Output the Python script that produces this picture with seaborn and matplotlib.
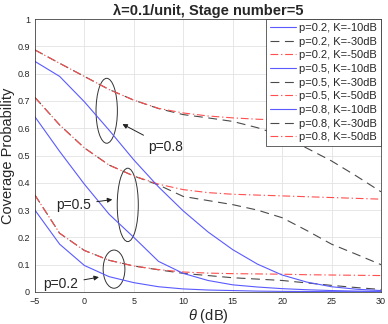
import matplotlib
matplotlib.use("Agg")
import matplotlib.pyplot as plt
from matplotlib.patches import Ellipse
import seaborn as sns
import pandas as pd

# SINR threshold (dB)
theta = [-5, -2.5, 0, 2.5, 5, 7.5, 10, 12.5, 15, 17.5, 20, 22.5, 25, 27.5, 30]

# coverage probability
p02_k10 = [0.300, 0.175, 0.097, 0.056, 0.034, 0.019, 0.011, 0.007, 0.005, 0.003, 0.002, 0.0015, 0.001, 0.0008, 0.0005]
p02_k30 = [0.355, 0.215, 0.152, 0.116, 0.095, 0.081, 0.068, 0.060, 0.052, 0.047, 0.042, 0.033, 0.024, 0.016, 0.009]
p02_k50 = [0.355, 0.215, 0.152, 0.116, 0.095, 0.082, 0.073, 0.069, 0.067, 0.066, 0.065, 0.063, 0.062, 0.061, 0.060]

p05_k10 = [0.642, 0.515, 0.395, 0.285, 0.200, 0.112, 0.068, 0.042, 0.026, 0.018, 0.012, 0.008, 0.005, 0.003, 0.002]
p05_k30 = [0.713, 0.612, 0.528, 0.465, 0.425, 0.392, 0.350, 0.335, 0.320, 0.300, 0.272, 0.225, 0.175, 0.138, 0.100]
p05_k50 = [0.713, 0.612, 0.528, 0.465, 0.425, 0.395, 0.375, 0.364, 0.358, 0.355, 0.352, 0.349, 0.346, 0.343, 0.340]

p08_k10 = [0.845, 0.790, 0.697, 0.593, 0.484, 0.385, 0.297, 0.220, 0.155, 0.102, 0.062, 0.036, 0.019, 0.010, 0.005]
p08_k30 = [0.887, 0.838, 0.790, 0.742, 0.703, 0.672, 0.650, 0.638, 0.625, 0.602, 0.572, 0.527, 0.480, 0.425, 0.367]
p08_k50 = [0.887, 0.838, 0.790, 0.742, 0.703, 0.673, 0.656, 0.645, 0.638, 0.633, 0.630, 0.628, 0.627, 0.626, 0.625]

series = [
    ("p=0.2, K=-10dB", p02_k10, "K10"),
    ("p=0.2, K=-30dB", p02_k30, "K30"),
    ("p=0.2, K=-50dB", p02_k50, "K50"),
    ("p=0.5, K=-10dB", p05_k10, "K10"),
    ("p=0.5, K=-30dB", p05_k30, "K30"),
    ("p=0.5, K=-50dB", p05_k50, "K50"),
    ("p=0.8, K=-10dB", p08_k10, "K10"),
    ("p=0.8, K=-30dB", p08_k30, "K30"),
    ("p=0.8, K=-50dB", p08_k50, "K50"),
]

styles = {
    "K10": dict(color="#5a5aff", linestyle="-"),
    "K30": dict(color="#4a4a4a", linestyle=(0, (8, 5))),
    "K50": dict(color="#ff4f4f", linestyle=(0, (7, 2.5, 1.2, 2.5))),
}

rows = []
for label, vals, k in series:
    for t, v in zip(theta, vals):
        rows.append({"theta": t, "cov": v, "label": label, "k": k})
df = pd.DataFrame(rows)

sns.set_style("whitegrid")
plt.rcParams["font.family"] = ["Liberation Sans", "DejaVu Sans"]
plt.rcParams["mathtext.fontset"] = "custom"
plt.rcParams["mathtext.it"] = "Liberation Sans:italic"
plt.rcParams["mathtext.rm"] = "Liberation Sans"

fig, ax = plt.subplots(figsize=(3.88, 3.24), dpi=100)
fig.subplots_adjust(left=0.090, right=0.982, top=0.941, bottom=0.099)

for label, vals, k in series:
    sub = df[df["label"] == label]
    sns.lineplot(data=sub, x="theta", y="cov", ax=ax, label=label,
                 linewidth=0.8, **styles[k])

ax.set_xlim(-5, 30)
ax.set_ylim(0, 1)
ax.set_xticks(range(-5, 31, 5))
ax.set_yticks([i / 10 for i in range(11)])
ax.set_yticklabels(["0", "0.1", "0.2", "0.3", "0.4", "0.5", "0.6", "0.7", "0.8", "0.9", "1"])
ax.tick_params(labelsize=6.5, colors="#262626", direction="in", length=2, width=0.5)
ax.grid(True, color="#e3e3e3", linewidth=0.6)
for s in ax.spines.values():
    s.set_color("#262626")
    s.set_linewidth(0.5)

ax.set_xlabel(r"$\theta$ (dB)", fontsize=10.5, labelpad=1)
ax.set_ylabel("Coverage Probability", fontsize=10.5, labelpad=2)
ax.set_title("λ=0.1/unit, Stage number=5", fontsize=10.5, fontweight="bold", pad=3)

leg = ax.legend(loc="upper right", fontsize=8, borderaxespad=0, fancybox=False,
                framealpha=1, edgecolor="#262626", handlelength=2.3,
                handletextpad=0.3, labelspacing=0.33, borderpad=0.35)
leg.get_frame().set_linewidth(0.5)

# group markers
for cx, cy, w, h in [(2.26, 0.664, 2.16, 0.238), (4.39, 0.319, 2.13, 0.269), (3.0, 0.0835, 2.2, 0.14)]:
    ax.add_patch(Ellipse((cx, cy), w, h, fill=False, edgecolor="#333333", linewidth=0.7))

arrow = dict(arrowstyle="-|>", color="#222222", lw=0.7, mutation_scale=7)
ax.annotate("p=0.8", xy=(3.6, 0.62), xytext=(8.2, 0.532), fontsize=10,
            ha="center", va="center", arrowprops=arrow)
ax.annotate("p=0.5", xy=(3.1, 0.34), xytext=(-1.12, 0.319), fontsize=10,
            ha="center", va="center", arrowprops=arrow)
ax.annotate("p=0.2", xy=(1.75, 0.056), xytext=(-2.42, 0.029), fontsize=10,
            ha="center", va="center", arrowprops=arrow)

plt.savefig("out.png", dpi=100)
plt.close()
